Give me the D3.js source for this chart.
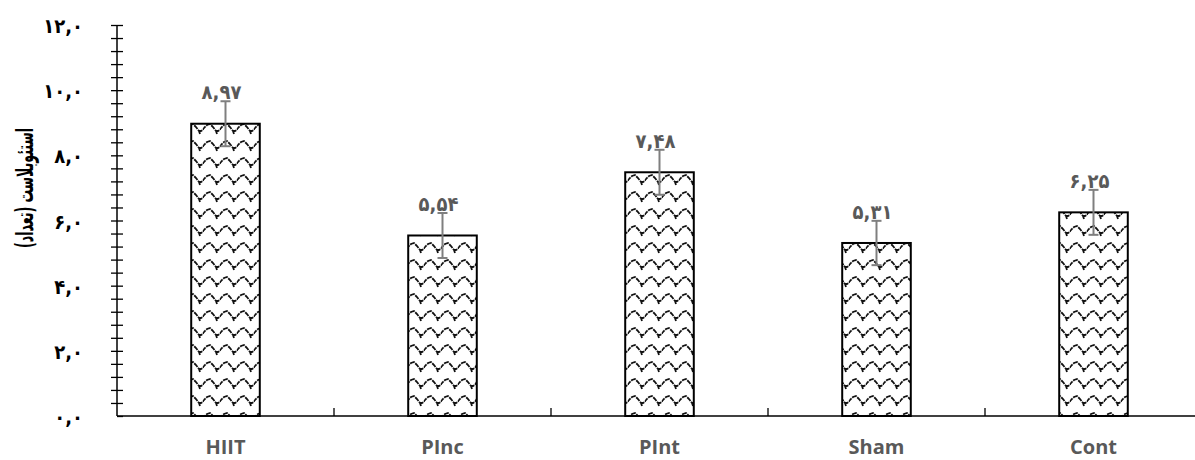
<!DOCTYPE html>
<html><head><meta charset="utf-8">
<script src="https://cdn.jsdelivr.net/npm/d3@7"></script>
<style>body{margin:0;background:#fff}svg{display:block}</style>
</head><body>
<svg id="c" width="1195" height="460"></svg>
<script>
const categories = ["HIIT","PInc","PInt","Sham","Cont"];
const values = [8.97,5.54,7.48,5.31,6.25];
const errors = [0.69,0.69,0.69,0.68,0.69];
const valueLabels = ["۸,۹۷","۵,۵۴","۷,۴۸","۵,۳۱","۶,۲۵"];
const yTicks = [0,2,4,6,8,10,12];
const yTickLabels = ["۰,۰","۲,۰","۴,۰","۶,۰","۸,۰","۱۰,۰","۱۲,۰"];
const yTitle = "استئوبلاست (تعداد)";

const svg = d3.select("#c");
const x0 = 117, y0 = 416, yTop = 25, step = 217;
const x = d3.scaleBand().domain(categories).range([x0, x0 + step*categories.length]).paddingInner(0.684).paddingOuter(0.342);
const y = d3.scaleLinear().domain([0,12]).range([y0, yTop]);
const FA = "DejaVu Sans Condensed, DejaVu Sans";

const defs = svg.append("defs");
const pat = defs.append("pattern").attr("id","shingle").attr("patternUnits","userSpaceOnUse")
  .attr("width",17).attr("height",17);
pat.append("rect").attr("width",17).attr("height",17).attr("fill","#fff");
pat.append("path").attr("d","M-2,11 L3,6 L6,5 L9,8 L12,12 L14,12 L16,11 L19,6 M15,-6 L17,-5 L19,-6 M-2,-6 L0,-5 M12,12 L13,15 M-5,12 L-4,15")
  .attr("fill","none").attr("stroke","#111").attr("stroke-width",1.8).attr("stroke-dasharray","5,1");

// bars
svg.selectAll("rect.bar").data(categories).join("rect").attr("class","bar")
  .attr("x", d=>x(d)).attr("width", x.bandwidth())
  .attr("y",(d,i)=>y(values[i])).attr("height",(d,i)=>y0 - y(values[i]))
  .attr("fill","url(#shingle)").attr("stroke","#000").attr("stroke-width",2);

// error bars
const eg = svg.append("g").attr("stroke","#7f7f7f").attr("stroke-width",2);
categories.forEach((c,i)=>{
  const cx = x(c)+x.bandwidth()/2;
  eg.append("line").attr("x1",cx).attr("x2",cx).attr("y1",y(values[i]+errors[i])).attr("y2",y(values[i]-errors[i]));
  eg.append("line").attr("x1",cx-5).attr("x2",cx+5).attr("y1",y(values[i]+errors[i])).attr("y2",y(values[i]+errors[i]));
  eg.append("line").attr("x1",cx-5).attr("x2",cx+5).attr("y1",y(values[i]-errors[i])).attr("y2",y(values[i]-errors[i]));
});

// value labels
svg.selectAll("text.val").data(categories).join("text").attr("class","val")
  .attr("x", d=>x(d)+x.bandwidth()/2-4)
  .attr("y",(d,i)=>y(values[i]+errors[i])-2)
  .attr("text-anchor","middle").attr("fill","#595959")
  .attr("font-family",FA).attr("font-weight","bold").attr("font-size",20)
  .text((d,i)=>valueLabels[i]);

// y axis
const yAxis = d3.axisLeft(y).tickValues(d3.range(0,12.01,0.4)).tickSize(0).tickFormat("");
const ya = svg.append("g").attr("transform",`translate(${x0},0)`).call(yAxis);
ya.select(".domain").remove();
ya.append("line").attr("x1",0).attr("x2",0).attr("y1",yTop).attr("y2",y0).attr("stroke","#000").attr("stroke-width",1.5);
ya.selectAll(".tick line").attr("x1",-6).attr("x2",6).attr("stroke","#000").attr("stroke-width",1.3);
ya.selectAll(".tick").filter(d=>Math.abs(d)<1e-6).select("line").attr("x1",0);

svg.selectAll("text.yt").data(yTicks).join("text").attr("class","yt")
  .attr("x",83).attr("y",d=>y(d)).attr("dy","0.4em").attr("text-anchor","end")
  .attr("font-family",FA).attr("font-weight","bold").attr("font-size",20).attr("fill","#000")
  .text((d,i)=>yTickLabels[i]);

// x axis
const xa = svg.append("g");
xa.append("line").attr("x1",x0).attr("x2",x0+step*categories.length).attr("y1",y0).attr("y2",y0).attr("stroke","#000").attr("stroke-width",1.5);
d3.range(1,categories.length).forEach(k=>{
  xa.append("line").attr("x1",x0+k*step).attr("x2",x0+k*step).attr("y1",y0).attr("y2",y0-8).attr("stroke","#000").attr("stroke-width",1.3);
});
svg.selectAll("text.xl").data(categories).join("text").attr("class","xl")
  .attr("x",d=>x(d)+x.bandwidth()/2).attr("y",454).attr("text-anchor","middle")
  .attr("font-family","Open Sans").attr("font-weight","bold").attr("font-size",20).attr("fill","#595959")
  .text(d=>d);

// y title
svg.append("text").attr("transform","translate(33,188) rotate(-90)")
  .attr("text-anchor","middle").attr("font-family",FA).attr("font-weight","bold").attr("font-size",24).attr("fill","#000")
  .attr("direction","rtl").attr("textLength",120).attr("lengthAdjust","spacingAndGlyphs").text(yTitle);
</script>
</body></html>
